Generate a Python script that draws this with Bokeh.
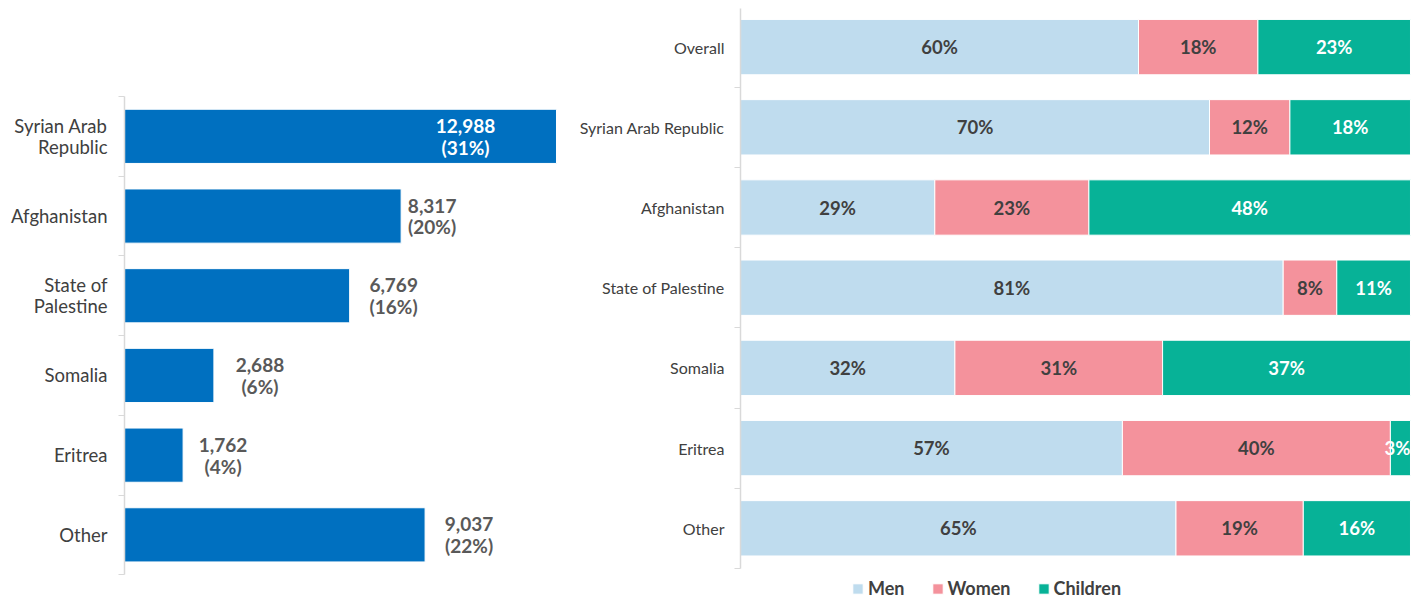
from bokeh.plotting import figure
from bokeh.models import Range1d, FixedTicker, ColumnDataSource, Legend, LegendItem
from bokeh.layouts import row
from bokeh.embed import file_html
from bokeh.resources import INLINE
from bokeh.core.properties import value

# ---- data: left chart ----
countries = ["Syrian Arab\nRepublic", "Afghanistan", "State of\nPalestine",
             "Somalia", "Eritrea", "Other"]
counts = [12988, 8317, 6769, 2688, 1762, 9037]
count_pct = [31, 20, 16, 6, 4, 22]

# ---- data: right chart ----
groups = ["Overall", "Syrian Arab Republic", "Afghanistan", "State of Palestine", "Somalia", "Eritrea", "Other"]
men = [60, 70, 29, 81, 32, 57, 65]
women = [18, 12, 23, 8, 31, 40, 19]
children = [23, 18, 48, 11, 37, 3, 16]
series_names = ["Men", "Women", "Children"]

# ---- style ----
FONT = "Lato"
BLUE = "#0070C0"
COLORS = ["#BFDCEE", "#F4929C", "#07B297"]
AXIS = "#D9D9D9"
TXT = "#404040"
LABEL_DX = [-91, 31, 44, 46, 40, 44]   # label offsets (px) from bar end, as in the original layout

H = 600
TOP = 8
FRAME_H = H - TOP  # frame spans page y 8..600

# ================= left figure (bands from y=96, 79.7px each) =================
n_l = len(countries)
pos_l = list(range(n_l))
band_l = 79.7
ext_top_l = (96 - TOP) / band_l
ext_bot_l = (FRAME_H - (96 - TOP) - band_l * n_l) / band_l
p1 = figure(width=570, height=H, output_backend="svg", toolbar_location=None,
            x_range=Range1d(0, 13409), y_range=Range1d(n_l - 0.5 + ext_bot_l, -0.5 - ext_top_l),
            min_border_left=124, min_border_right=0, min_border_top=TOP, min_border_bottom=0)
p1.outline_line_color = None
p1.grid.visible = False
p1.xaxis.visible = False

src1 = ColumnDataSource(dict(y=pos_l, right=counts))
p1.hbar(y="y", left=0, right="right", height=0.68, source=src1,
        fill_color=BLUE, line_color="white", line_width=1)

imax = counts.index(max(counts))
lab_text = [f"{c:,}\n({pc}%)" for c, pc in zip(counts, count_pct)]
src1t = ColumnDataSource(dict(
    x=counts, y=pos_l, text=lab_text, xo=LABEL_DX,
    col=["white" if i == imax else "#595959" for i in pos_l]))
p1.text(x="x", y="y", text="text", x_offset="xo", text_color="col", source=src1t,
        text_font=value(FONT), text_font_style="bold", text_font_size="19px",
        text_align="center", text_baseline="middle", text_line_height=0.95)

ax = p1.yaxis[0]
ax.ticker = FixedTicker(ticks=pos_l, minor_ticks=[i - 0.5 for i in range(n_l + 1)])
ax.bounds = (-0.5, n_l - 0.5)
ax.major_label_overrides = {i: c for i, c in enumerate(countries)}
ax.major_tick_line_color = None
ax.major_tick_out = 0
ax.major_tick_in = 0
ax.minor_tick_out = 6
ax.minor_tick_in = 0
ax.minor_tick_line_color = AXIS
ax.axis_line_color = AXIS
ax.axis_line_width = 1.5
ax.major_label_standoff = 11
ax.major_label_text_font = FONT
ax.major_label_text_font_size = "18.5px"
ax.major_label_text_color = TXT
ax.major_label_text_line_height = 0.95

# ================= right figure (bands from y=6.5, 80.2px each) =================
n_r = len(groups)
pos_r = list(range(n_r))
band_r = 80.2
ext_top_r = (6.5 - TOP) / band_r
ext_bot_r = (FRAME_H - (6.5 - TOP) - band_r * n_r) / band_r
tot = [m + w + c for m, w, c in zip(men, women, children)]
m_s = [m / t for m, t in zip(men, tot)]
w_s = [w / t for w, t in zip(women, tot)]
c_s = [c / t for c, t in zip(children, tot)]

p2 = figure(width=842, height=H, output_backend="svg", toolbar_location=None,
            x_range=Range1d(0, 1.003), y_range=Range1d(n_r - 0.5 + ext_bot_r, -0.5 - ext_top_r),
            min_border_left=170, min_border_right=0, min_border_top=TOP, min_border_bottom=0)
p2.outline_line_color = None
p2.grid.visible = False
p2.xaxis.visible = False

src2 = ColumnDataSource(dict(y=pos_r, Men=m_s, Women=w_s, Children=c_s))
rends = p2.hbar_stack(series_names, y="y", height=0.69, source=src2,
                      color=COLORS, line_color="white", line_width=1)

lx, ly, lt, lc, la = [], [], [], [], []
for i in pos_r:
    left = 0.0
    for share, raw, col in zip([m_s[i], w_s[i], c_s[i]], [men[i], women[i], children[i]],
                               [TXT, TXT, "white"]):
        if share < 0.05:
            lx.append(left + share)
            la.append("right")
        else:
            lx.append(left + share / 2)
            la.append("center")
        ly.append(i)
        lt.append(f"{raw}%")
        lc.append(col)
        left += share
src2t = ColumnDataSource(dict(x=lx, y=ly, text=lt, col=lc, align=la))
p2.text(x="x", y="y", text="text", text_color="col", text_align="align", source=src2t,
        text_font=value(FONT), text_font_style="bold", text_font_size="18.5px",
        text_baseline="middle")

ax2 = p2.yaxis[0]
ax2.ticker = FixedTicker(ticks=pos_r, minor_ticks=[i - 0.5 for i in range(n_r + 1)])
ax2.bounds = (-0.5, n_r - 0.5)
ax2.major_label_overrides = {i: g for i, g in enumerate(groups)}
ax2.major_tick_line_color = None
ax2.major_tick_out = 0
ax2.major_tick_in = 0
ax2.minor_tick_out = 6
ax2.minor_tick_in = 0
ax2.minor_tick_line_color = AXIS
ax2.axis_line_color = AXIS
ax2.axis_line_width = 1.5
ax2.major_label_standoff = 10
ax2.major_label_text_font = FONT
ax2.major_label_text_font_size = "16px"
ax2.major_label_text_color = TXT

legend = Legend(items=[LegendItem(label=n, renderers=[r]) for n, r in zip(series_names, rends)],
                orientation="horizontal", location=(111, 1),
                label_text_font=FONT, label_text_font_style="bold", label_text_font_size="18px",
                label_text_color=TXT, glyph_width=13, glyph_height=13, label_height=13,
                label_standoff=4, spacing=26, padding=0, margin=0,
                border_line_color=None, background_fill_alpha=0)
p2.add_layout(legend)

layout = row(p1, p2, spacing=0)
open("out.html", "w").write(file_html(layout, INLINE))
